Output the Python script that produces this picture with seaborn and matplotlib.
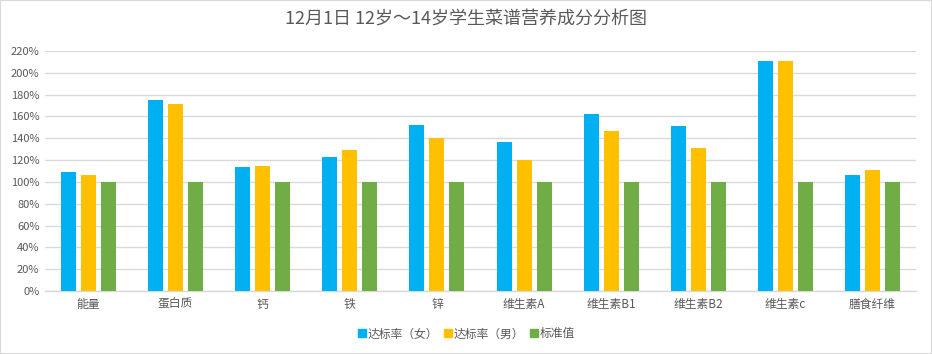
import matplotlib
matplotlib.use("Agg")
import matplotlib.pyplot as plt
import seaborn as sns
import pandas as pd
from matplotlib.patches import Rectangle
from matplotlib.lines import Line2D

categories = ["能量", "蛋白质", "钙", "铁", "锌", "维生素A", "维生素B1", "维生素B2", "维生素c", "膳食纤维"]
female = [109, 175, 114, 123, 152, 137, 162, 151, 211, 106]
male = [106, 171, 115, 129, 140, 120, 147, 131, 211, 111]
standard = [100, 100, 100, 100, 100, 100, 100, 100, 100, 100]
series_names = ["达标率（女）", "达标率（男）", "标准值"]
colors = ["#00B0F0", "#FFC000", "#70AD47"]
yticks = list(range(0, 221, 20))
title = "12月1日 12岁～14岁学生菜谱营养成分分析图"

rows = []
for name, vals in zip(series_names, [female, male, standard]):
    for c, v in zip(categories, vals):
        rows.append({"cat": c, "series": name, "value": v})
df = pd.DataFrame(rows)

sns.set_theme(style="white")
plt.rcParams["font.family"] = ["Noto Sans CJK SC", "DejaVu Sans"]

fig = plt.figure(figsize=(9.32, 3.54), dpi=100)
ax = fig.add_axes([45/932, 1-291/354, (916-45)/932, (291-51)/354])

sns.barplot(data=df, x="cat", y="value", hue="series", order=categories,
            hue_order=series_names, palette=colors, width=0.69, gap=0.25,
            saturation=1, ax=ax, legend=False, zorder=3, linewidth=0)

ax.set_ylim(0, 220)
ax.set_xlim(-0.5, len(categories)-0.5)
ax.set_yticks(yticks)
ax.set_yticklabels([f"{t}%" for t in yticks], fontsize=8, color="#595959")
ax.tick_params(axis="x", labelsize=8.5, colors="#595959", length=0, pad=5)
ax.tick_params(axis="y", length=0, pad=4)
ax.set_xlabel("")
ax.set_ylabel("")
ax.yaxis.grid(True, color="#D9D9D9", linewidth=1, zorder=0)
ax.set_axisbelow(True)
for s in ["top", "right", "left"]:
    ax.spines[s].set_visible(False)
ax.spines["bottom"].set_color("#D9D9D9")
ax.spines["bottom"].set_linewidth(1)

fig.text(0.5, 1-20/354, title, ha="center", va="center", fontsize=13, color="#595959")

handles = [Line2D([0], [0], marker="s", linestyle="none", markersize=6,
                  markerfacecolor=c, markeredgecolor=c) for c in colors]
fig.legend(handles, series_names, loc="center", bbox_to_anchor=(0.5, 1-334/354),
           ncol=3, frameon=False, fontsize=8.5, handletextpad=0.1, columnspacing=0.4,
           labelcolor="#595959", handlelength=0.8)

fig.patches.append(Rectangle((0, 0), 1, 1, transform=fig.transFigure, fill=False,
                             edgecolor="#D9D9D9", linewidth=1.5))

fig.savefig("out.png", dpi=100)
